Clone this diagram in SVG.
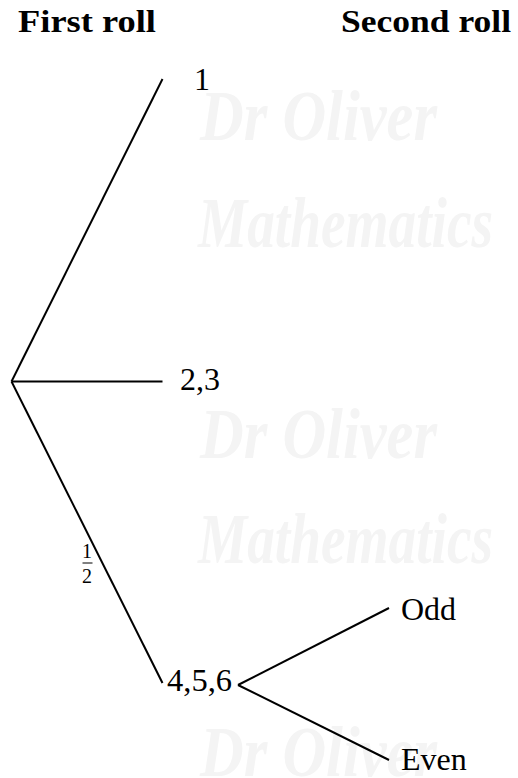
<svg xmlns="http://www.w3.org/2000/svg" width="518" height="778" viewBox="0 0 518 778">
<style>
.wm{font-family:"Liberation Serif","DejaVu Serif",serif;font-style:italic;font-weight:bold;font-size:72px;fill:#f4f4f4}
.hd{font-family:"Liberation Serif","DejaVu Serif",serif;font-weight:bold;font-size:32px;fill:#000}
.lb{font-family:"Liberation Serif","DejaVu Serif",serif;font-size:32px;fill:#000}
.fr{font-family:"Liberation Serif","DejaVu Serif",serif;font-size:20px;fill:#000}
.ln{stroke:#000;stroke-width:2;fill:none;stroke-linecap:butt}
</style>
<rect width="518" height="778" fill="#fff"/>
<g id="watermark">
<text class="wm" x="200" y="140" textLength="237" lengthAdjust="spacingAndGlyphs">Dr Oliver</text>
<text class="wm" x="198" y="247" textLength="295" lengthAdjust="spacingAndGlyphs">Mathematics</text>
<text class="wm" x="200" y="458" textLength="237" lengthAdjust="spacingAndGlyphs">Dr Oliver</text>
<text class="wm" x="198" y="563" textLength="295" lengthAdjust="spacingAndGlyphs">Mathematics</text>
<text class="wm" x="200" y="776" textLength="237" lengthAdjust="spacingAndGlyphs">Dr Oliver</text>
</g>
<g id="headers">
<text class="hd" x="18" y="32" textLength="138" lengthAdjust="spacingAndGlyphs">First roll</text>
<text class="hd" x="341" y="32" textLength="170" lengthAdjust="spacingAndGlyphs">Second roll</text>
</g>
<g id="connectors">
<line class="ln" x1="11.5" y1="381.5" x2="162.5" y2="79"/>
<line class="ln" x1="11.5" y1="381.5" x2="162.5" y2="381.5"/>
<line class="ln" x1="11.5" y1="381.5" x2="162.5" y2="683"/>
<line class="ln" x1="238" y1="685" x2="389" y2="608"/>
<line class="ln" x1="238" y1="685" x2="389" y2="760"/>
<g id="prob-half">
<text class="fr" x="87" y="558" text-anchor="middle">1</text>
<line x1="82.5" y1="563" x2="92.5" y2="563" stroke="#000" stroke-width="1"/>
<text class="fr" x="87" y="583" text-anchor="middle">2</text>
</g>
</g>
<g id="root"></g>
<g id="node-1"><text class="lb" x="194" y="90">1</text></g>
<g id="node-23"><text class="lb" x="180" y="390">2,3</text></g>
<g id="node-456"><text class="lb" x="167" y="691" textLength="65" lengthAdjust="spacingAndGlyphs">4,5,6</text></g>
<g id="node-odd"><text class="lb" x="401" y="620">Odd</text></g>
<g id="node-even"><text class="lb" x="401" y="770">Even</text></g>
</svg>
